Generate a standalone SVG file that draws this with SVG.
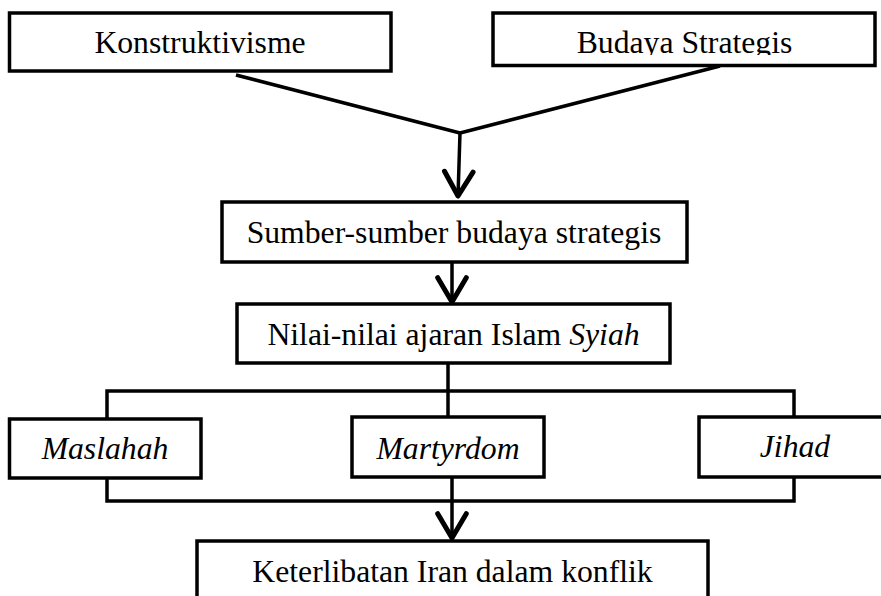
<svg xmlns="http://www.w3.org/2000/svg" width="881" height="596" viewBox="0 0 881 596">
<style>
.box{fill:#fff;stroke:#000;stroke-width:3.5}
.ln{fill:none;stroke:#000;stroke-width:3.5}
.t{font-family:"Liberation Serif","Times New Roman",serif;font-size:31.7px;fill:#000;text-anchor:middle}
.i{font-style:italic}
</style>
<defs>
<marker id="arr" markerUnits="userSpaceOnUse" markerWidth="40" markerHeight="40" viewBox="-22 -14 26 28" refX="0" refY="0" orient="auto">
<path d="M-17,-10 L0,0 L-17,10" fill="none" stroke="#000" stroke-width="3.5" stroke-linecap="round" stroke-linejoin="round"/>
</marker>
<clipPath id="clipB"><rect x="493" y="13" width="383" height="42"/></clipPath>
</defs>
<rect width="881" height="596" fill="#fff"/>
<g id="connectors">
<polyline class="ln" points="236,75 460,133 720,66" stroke-linejoin="round"/>
<line class="ln" x1="460" y1="133" x2="458" y2="196" marker-end="url(#arr)"/>
<line class="ln" x1="452" y1="262" x2="452" y2="302" marker-end="url(#arr)"/>
<line class="ln" x1="448" y1="363" x2="448" y2="417"/>
<rect class="ln" x="107" y="391" width="687" height="110"/>
<line class="ln" x1="452" y1="477" x2="452" y2="538" marker-end="url(#arr)"/>
</g>
<g id="konstruktivisme">
<rect class="box" x="9.5" y="13" width="381.5" height="58"/>
<text class="t" x="200" y="53">Konstruktivisme</text>
</g>
<g id="budaya-strategis">
<rect class="box" x="493" y="13" width="382" height="52.5"/>
<text class="t" x="684.5" y="53.3" clip-path="url(#clipB)">Budaya Strategis</text>
</g>
<g id="sumber">
<rect class="box" x="222" y="202" width="465" height="60"/>
<text class="t" x="454" y="243">Sumber-sumber budaya strategis</text>
</g>
<g id="nilai">
<rect class="box" x="237" y="304" width="433" height="59"/>
<text class="t" x="453.5" y="345">Nilai-nilai ajaran Islam <tspan class="i">Syiah</tspan></text>
</g>
<g id="maslahah">
<rect class="box" x="9.5" y="419" width="191.5" height="59"/>
<text class="t i" x="105" y="459">Maslahah</text>
</g>
<g id="martyrdom">
<rect class="box" x="352" y="417" width="192" height="60"/>
<text class="t i" x="448" y="459">Martyrdom</text>
</g>
<g id="jihad">
<rect class="box" x="699" y="417" width="200" height="60"/>
<text class="t i" x="795" y="457">Jihad</text>
</g>
<g id="keterlibatan">
<rect class="box" x="197" y="541" width="511" height="80"/>
<text class="t" x="452.5" y="582">Keterlibatan Iran dalam konflik</text>
</g>
</svg>
